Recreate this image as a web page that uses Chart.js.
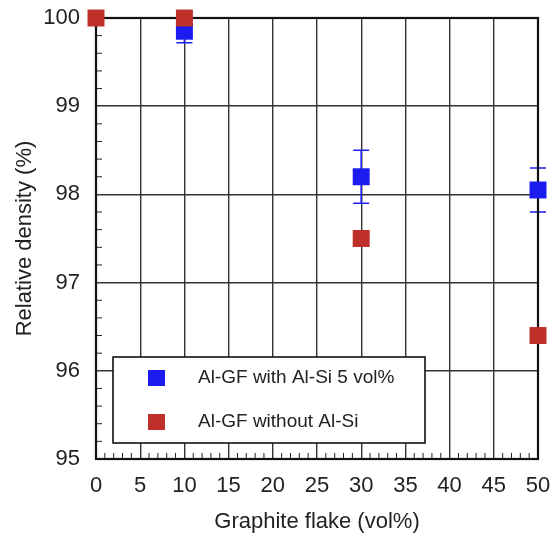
<!DOCTYPE html>
<html>
<head>
<meta charset="utf-8">
<script src="https://cdn.jsdelivr.net/npm/chart.js@4/dist/chart.umd.min.js"></script>
<style>
  html, body { margin: 0; padding: 0; background: #fff; }
  #wrap { width: 552px; height: 537px; position: relative; }
</style>
</head>
<body>
<div id="wrap"><canvas id="densityChart"></canvas></div>
<script>
// graphite flake content (vol%)
const withSiX = [10, 30, 50];
const withSiY = [99.85, 98.2, 98.05];
const withSiErr = [0.13, 0.3, 0.25];

const noSiX = [0, 10, 30, 50];
const noSiY = [100, 100, 97.5, 96.4];

const xTicks = [0, 5, 10, 15, 20, 25, 30, 35, 40, 45, 50];
const yTicks = [95, 96, 97, 98, 99, 100];

const labelWith = 'Al-GF with Al-Si 5 vol%';
const labelWithout = 'Al-GF without Al-Si';

const BLUE = '#1c1cf0';
const RED = '#c0302b';
const FONT = '"Liberation Sans", Arial, Helvetica, sans-serif';

// error bars for the blue series, drawn under the markers
const errorBars = {
    id: 'errorBars',
    beforeDatasetsDraw(chart) {
        const { ctx, scales: { x, y } } = chart;
        ctx.save();
        ctx.strokeStyle = BLUE;
        ctx.lineWidth = 1.6;
        withSiX.forEach((xv, i) => {
            const px = x.getPixelForValue(xv);
            const top = y.getPixelForValue(withSiY[i] + withSiErr[i]);
            const bot = y.getPixelForValue(withSiY[i] - withSiErr[i]);
            ctx.beginPath();
            ctx.moveTo(px, top); ctx.lineTo(px, bot);
            ctx.moveTo(px - 8, top); ctx.lineTo(px + 8, top);
            ctx.moveTo(px - 8, bot); ctx.lineTo(px + 8, bot);
            ctx.stroke();
        });
        ctx.restore();
    }
};

// minor ticks on the inside of left and bottom axes + frame
const frame = {
    id: 'frame',
    beforeDatasetsDraw(chart) {
        const { ctx, chartArea: a, scales: { x, y } } = chart;
        ctx.save();
        ctx.strokeStyle = '#222';
        ctx.lineWidth = 1;
        ctx.beginPath();
        for (let v = 0; v <= 50; v++) {
            if (v % 5 === 0) continue;
            const px = x.getPixelForValue(v);
            ctx.moveTo(px, a.bottom); ctx.lineTo(px, a.bottom - 6);
        }
        for (let k = 1; k < 25; k++) {
            if (k % 5 === 0) continue;
            const py = y.getPixelForValue(95 + k * 0.2);
            ctx.moveTo(a.left, py); ctx.lineTo(a.left + 6, py);
        }
        ctx.stroke();
        ctx.strokeStyle = '#111';
        ctx.lineWidth = 2.2;
        ctx.strokeRect(a.left, a.top, a.right - a.left, a.bottom - a.top);
        ctx.restore();
    }
};

// boxed legend inside the plot
const boxLegend = {
    id: 'boxLegend',
    afterDraw(chart) {
        const { ctx, chartArea: a } = chart;
        const bx = a.left + 17, by = a.top + 339, bw = 312, bh = 86;
        ctx.save();
        ctx.fillStyle = '#fff';
        ctx.fillRect(bx, by, bw, bh);
        ctx.strokeStyle = '#111';
        ctx.lineWidth = 1.6;
        ctx.strokeRect(bx, by, bw, bh);
        const rows = [[BLUE, labelWith], [RED, labelWithout]];
        ctx.font = '19px ' + FONT;
        ctx.textBaseline = 'middle';
        rows.forEach((r, i) => {
            const cy = by + 21 + i * 44;
            ctx.fillStyle = r[0];
            ctx.fillRect(bx + 35, cy - 8, 17, 16);
            ctx.fillStyle = '#222';
            ctx.fillText(r[1], bx + 85, cy);
        });
        ctx.restore();
    }
};

const whiteBg = {
    id: 'whiteBg',
    beforeDraw(chart) {
        const { ctx, width, height } = chart;
        ctx.save();
        ctx.fillStyle = '#fff';
        ctx.fillRect(0, 0, width, height);
        ctx.restore();
    }
};

new Chart(document.getElementById('densityChart'), {
    type: 'scatter',
    data: {
        datasets: [
            {
                label: labelWithout,
                data: noSiX.map((v, i) => ({ x: v, y: noSiY[i] })),
                backgroundColor: RED,
                borderColor: RED,
                pointStyle: 'rect',
                pointRadius: 12,
                pointHoverRadius: 12,
                borderWidth: 0,
                clip: false
            },
            {
                label: labelWith,
                data: withSiX.map((v, i) => ({ x: v, y: withSiY[i] })),
                backgroundColor: BLUE,
                borderColor: BLUE,
                pointStyle: 'rect',
                pointRadius: 12,
                pointHoverRadius: 12,
                borderWidth: 0,
                clip: false
            }
        ]
    },
    options: {
        responsive: true,
        maintainAspectRatio: false,
        animation: false,
        layout: { padding: { top: 18, right: 14, left: 12, bottom: 0 } },
        plugins: {
            legend: { display: false },
            tooltip: { enabled: false }
        },
        scales: {
            x: {
                type: 'linear',
                min: 0,
                max: 50,
                afterBuildTicks: s => { s.ticks = xTicks.map(v => ({ value: v })); },
                afterFit: s => { s.height = 78; s.paddingLeft = 0; s.paddingRight = 0; },
                border: { display: false },
                grid: { color: '#333', lineWidth: 1.4, drawTicks: false },
                ticks: { color: '#222', padding: 14, font: { family: FONT, size: 22 } },
                title: {
                    display: true,
                    text: 'Graphite flake (vol%)',
                    color: '#222',
                    font: { family: FONT, size: 22 },
                    padding: { top: 0, bottom: 2 }
                }
            },
            y: {
                type: 'linear',
                min: 95,
                max: 100,
                afterBuildTicks: s => { s.ticks = yTicks.map(v => ({ value: v })); },
                afterFit: s => { s.width = 84; s.paddingTop = 0; s.paddingBottom = 0; },
                border: { display: false },
                grid: { color: '#333', lineWidth: 1.4, drawTicks: false },
                ticks: { color: '#222', padding: 16, font: { family: FONT, size: 22 } },
                title: {
                    display: true,
                    text: 'Relative density (%)',
                    color: '#222',
                    font: { family: FONT, size: 22 },
                    padding: { top: 0, bottom: 0 }
                }
            }
        }
    },
    plugins: [whiteBg, errorBars, frame, boxLegend]
});
</script>
</body>
</html>
